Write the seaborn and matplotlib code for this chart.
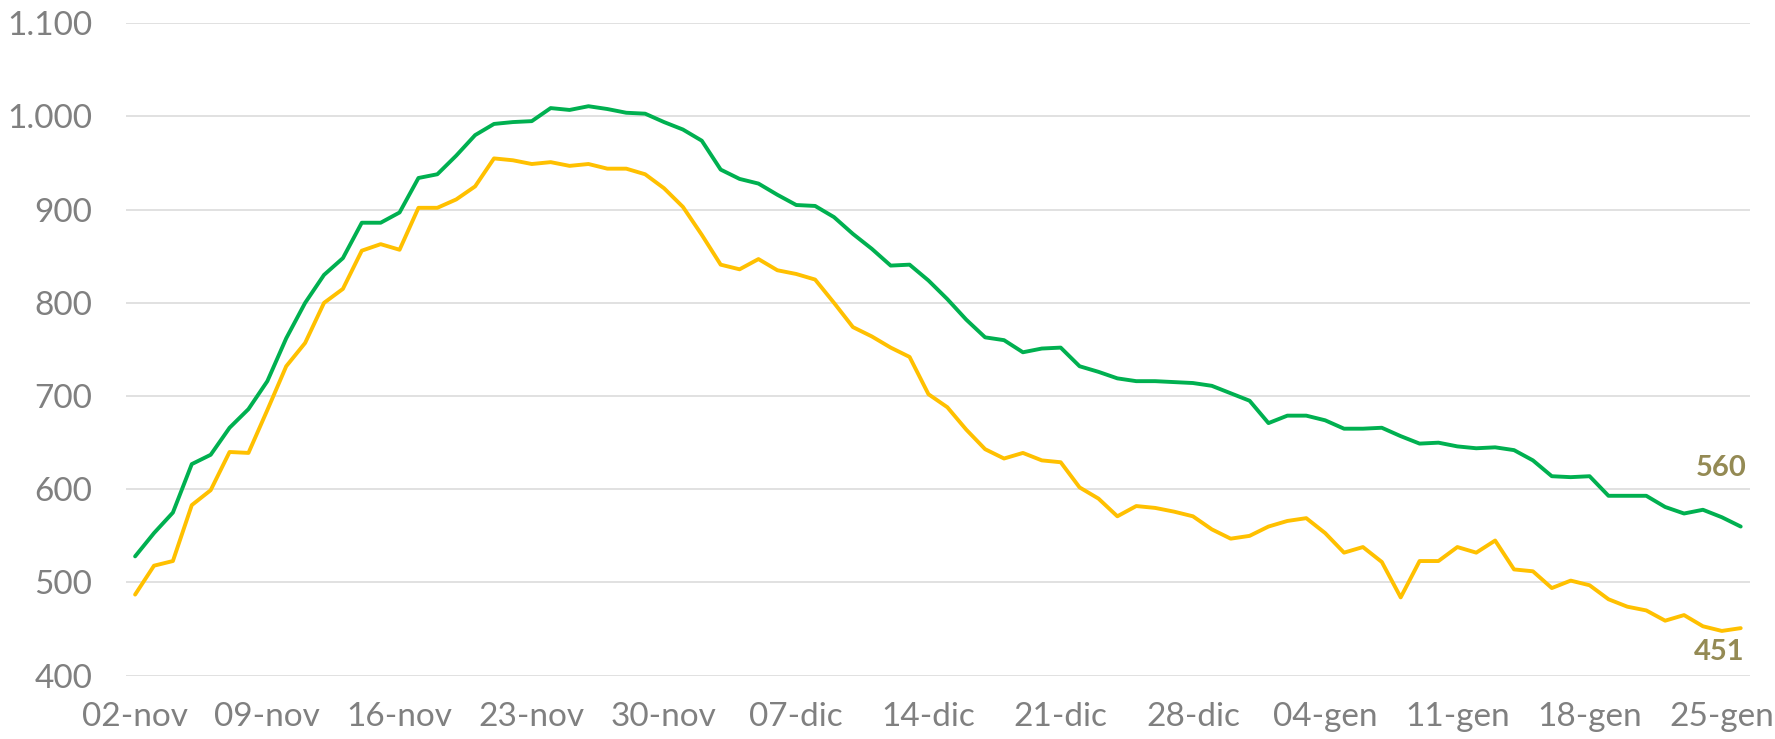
import matplotlib
matplotlib.use("Agg")
import matplotlib.pyplot as plt
import matplotlib.ticker as mticker
import pandas as pd
import seaborn as sns

# daily values, 02-nov .. 26-gen (86 days)
green_vals = [528, 553, 575, 627, 637, 666, 686, 716, 762, 800,
              830, 848, 886, 886, 897, 934, 938, 958, 980, 992,
              994, 995, 1009, 1007, 1011, 1008, 1004, 1003, 994, 986,
              974, 943, 933, 928, 916, 905, 904, 892, 874, 858,
              840, 841, 824, 804, 782, 763, 760, 747, 751, 752,
              732, 726, 719, 716, 716, 715, 714, 711, 703, 695,
              671, 679, 679, 674, 665, 665, 666, 657, 649, 650,
              646, 644, 645, 642, 631, 614, 613, 614, 593, 593,
              593, 581, 574, 578, 570, 560]
yellow_vals = [487, 518, 523, 583, 599, 640, 639, 685, 732, 757,
               800, 815, 856, 863, 857, 902, 902, 911, 925, 955,
               953, 949, 951, 947, 949, 944, 944, 938, 923, 903,
               873, 841, 836, 847, 835, 831, 825, 800, 774, 764,
               752, 742, 702, 688, 664, 643, 633, 639, 631, 629,
               602, 590, 571, 582, 580, 576, 571, 557, 547, 550,
               560, 566, 569, 553, 532, 538, 522, 484, 523, 523,
               538, 532, 545, 514, 512, 494, 502, 497, 482, 474,
               470, 459, 465, 453, 448, 451]
tick_labels = ["02-nov", "09-nov", "16-nov", "23-nov", "30-nov", "07-dic", "14-dic",
               "21-dic", "28-dic", "04-gen", "11-gen", "18-gen", "25-gen"]
y_ticks = [400, 500, 600, 700, 800, 900, 1000, 1100]

GREEN = "#00B050"
YELLOW = "#FFC000"
LABEL_COL = "#948A54"
TEXT_GRAY = "#808080"

sns.set_theme(style="white")
plt.rcParams["font.family"] = ["Lato", "DejaVu Sans"]

df = pd.DataFrame({"giorno": range(len(green_vals)), "verde": green_vals, "giallo": yellow_vals})
long = df.melt(id_vars="giorno", var_name="serie", value_name="valore")

fig = plt.figure(figsize=(17.75, 7.39), dpi=100)
ax = fig.add_axes([0.0708, 0.0857, 0.9152, 0.8828])

sns.lineplot(data=long, x="giorno", y="valore", hue="serie",
             palette={"verde": GREEN, "giallo": YELLOW},
             linewidth=2.8, legend=False, ax=ax)

n = len(green_vals)
ax.set_xlim(-0.5, n - 0.5)
ax.set_ylim(400, 1100)
ax.set_xticks(range(0, n, 7))
ax.set_xticklabels(tick_labels)
ax.set_yticks(y_ticks)
ax.yaxis.set_major_formatter(mticker.FuncFormatter(lambda v, _: f"{int(v):,}".replace(",", ".")))
ax.set_xlabel("")
ax.set_ylabel("")

ax.grid(axis="y", color="#D9D9D9", linewidth=1.1)
ax.grid(axis="x", visible=False)
for s in ax.spines.values():
    s.set_visible(False)
ax.tick_params(axis="both", length=0, labelsize=24, colors=TEXT_GRAY)
ax.tick_params(axis="y", pad=24)
ax.tick_params(axis="x", pad=19)

# end labels
ax.annotate(str(green_vals[-1]), xy=(n - 1, green_vals[-1]), xytext=(4, 42),
            textcoords="offset points", ha="right", va="center",
            fontsize=21, fontweight="bold", color=LABEL_COL)
ax.annotate(str(yellow_vals[-1]), xy=(n - 1, yellow_vals[-1]), xytext=(3, -17),
            textcoords="offset points", ha="right", va="center",
            fontsize=21, fontweight="bold", color=LABEL_COL)

fig.savefig("out.png", dpi=100)
